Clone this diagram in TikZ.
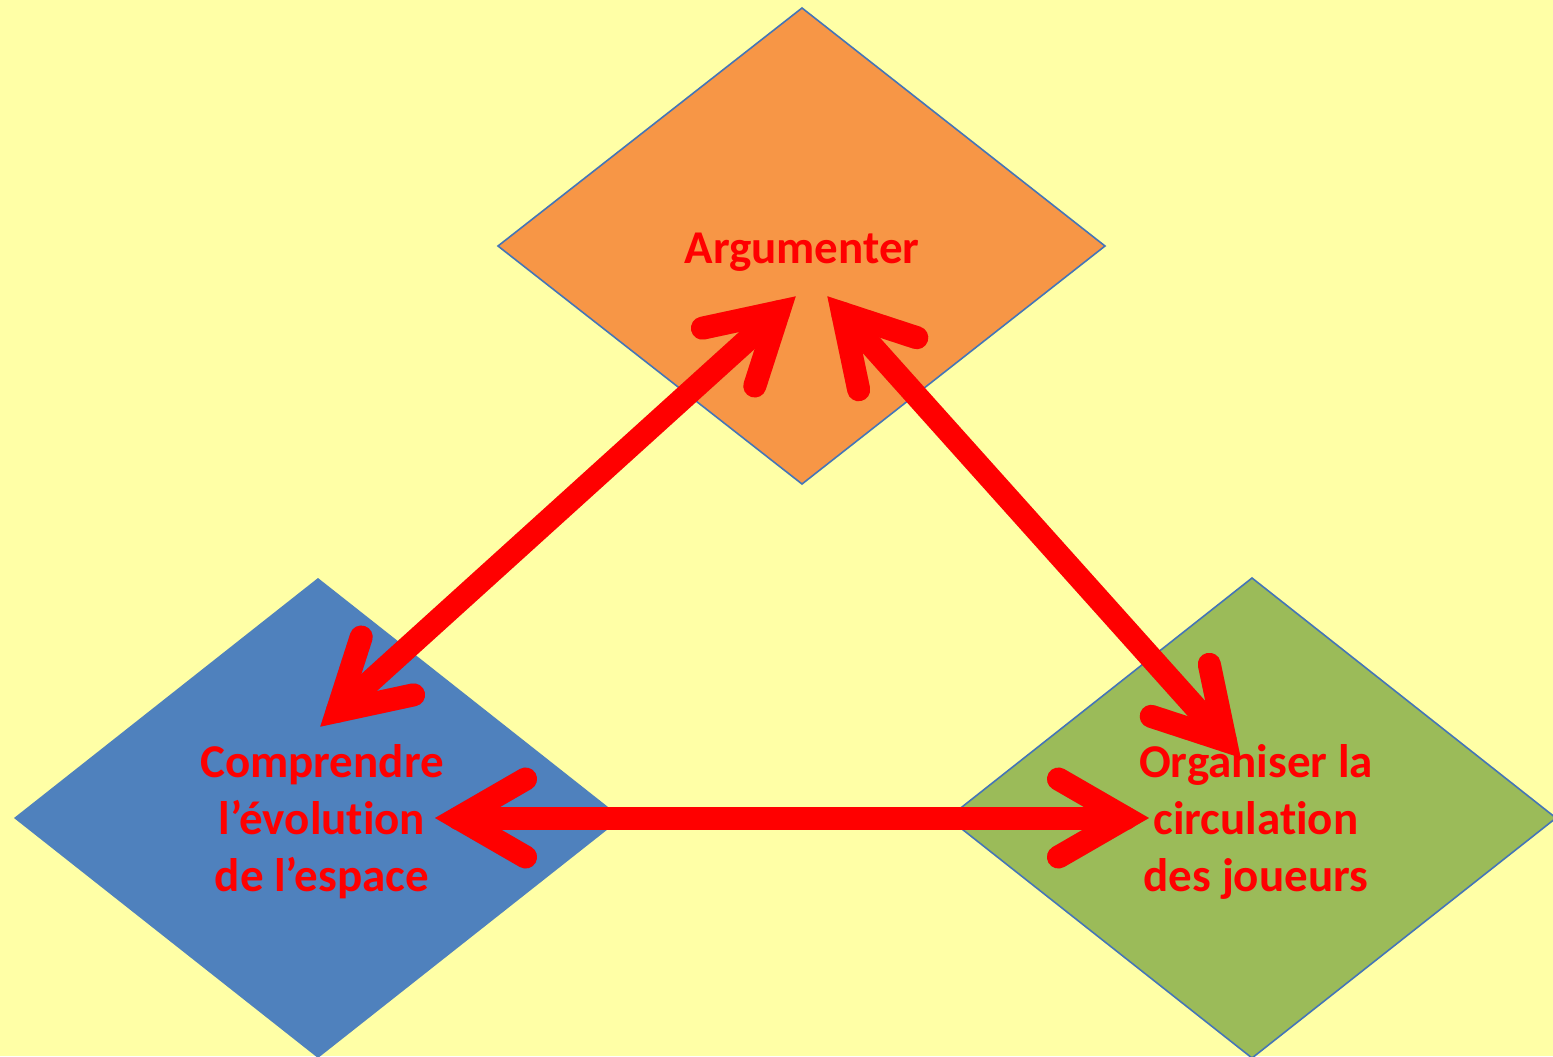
\documentclass[tikz,border=0pt]{standalone}
\usepackage{fontspec}
\setmainfont{Carlito}[Ligatures=NoCommon]
\usetikzlibrary{calc}
\definecolor{bgyellow}{HTML}{FFFFA6}
\definecolor{dorange}{HTML}{F79646}
\definecolor{dblue}{HTML}{4F81BD}
\definecolor{dgreen}{HTML}{9BBB59}
\definecolor{outl}{HTML}{4475B8}
\definecolor{arred}{HTML}{FF0000}
\newcommand\dblarrow[2]{%
  \path ($(#1)!11pt!(#2)$) coordinate (#1v) ($(#2)!11pt!(#1)$) coordinate (#2v);
  \begin{scope}[shift={(2.5,2.5)}]
    \draw[arrshadow] (#1v) -- (#2v);
    \draw[arrshadow, line join=miter] ($(#1v)!39pt!30:(#2v)$) -- (#1v) -- ($(#1v)!39pt!-30:(#2v)$);
    \draw[arrshadow, line join=miter] ($(#2v)!39pt!30:(#1v)$) -- (#2v) -- ($(#2v)!39pt!-30:(#1v)$);
  \end{scope}
  \draw[arrline] (#1v) -- (#2v);
  \draw[arrline, line join=miter] ($(#1v)!39pt!30:(#2v)$) -- (#1v) -- ($(#1v)!39pt!-30:(#2v)$);
  \draw[arrline, line join=miter] ($(#2v)!39pt!30:(#1v)$) -- (#2v) -- ($(#2v)!39pt!-30:(#1v)$);
}
\begin{document}
\begin{tikzpicture}[x=0.5pt,y=-0.5pt,
  diam/.style={draw=outl, line width=0.8pt},
  lbl/.style={text=arred, align=center, font=\fontsize{23.5}{28.5}\selectfont\bfseries, inner sep=0pt},
  arrline/.style={draw=arred, line width=11.5pt, line cap=round},
  arrshadow/.style={draw=black, opacity=0.12, line width=11.5pt, line cap=round}]
\useasboundingbox (0,0) rectangle (1553,1056);
\clip (0,0) rectangle (1553,1056);
\fill[bgyellow] (0,0) rectangle (1553,1056);
% diamonds
\fill[dorange] (802,8) -- (1105,246) -- (802,484) -- (498,246) -- cycle;
\draw[diam] (802,8) -- (1105,246) -- (802,484) -- (498,246) -- cycle;
\coordinate (top) at (802,246);
\fill[dblue] (318,578) -- (622,818) -- (318,1058) -- (14,818) -- cycle;
\coordinate (left) at (318,818);
\fill[dgreen] (1252,578) -- (1556,818) -- (1252,1058) -- (948,818) -- cycle;
\draw[diam] (1252,578) -- (1556,818) -- (1252,1058) -- (948,818) -- cycle;
\coordinate (right) at (1252,818);
% labels
\node[lbl] (tA) at (802,252) {Argumenter};
\node[lbl] (tC) at (322,822) {Comprendre\\l’évolution\\de l’espace};
\node[lbl] (tO) at (1256,822) {Organiser la\\circulation\\des joueurs};
% arrow tips
\coordinate (a1) at (795,297);
\coordinate (b1) at (321,726);
\coordinate (a2) at (828,297);
\coordinate (b2) at (1240,757);
\coordinate (a3) at (436,818);
\coordinate (b3) at (1148,818);
\dblarrow{a1}{b1}
\dblarrow{a2}{b2}
\dblarrow{a3}{b3}
\end{tikzpicture}
\end{document}
